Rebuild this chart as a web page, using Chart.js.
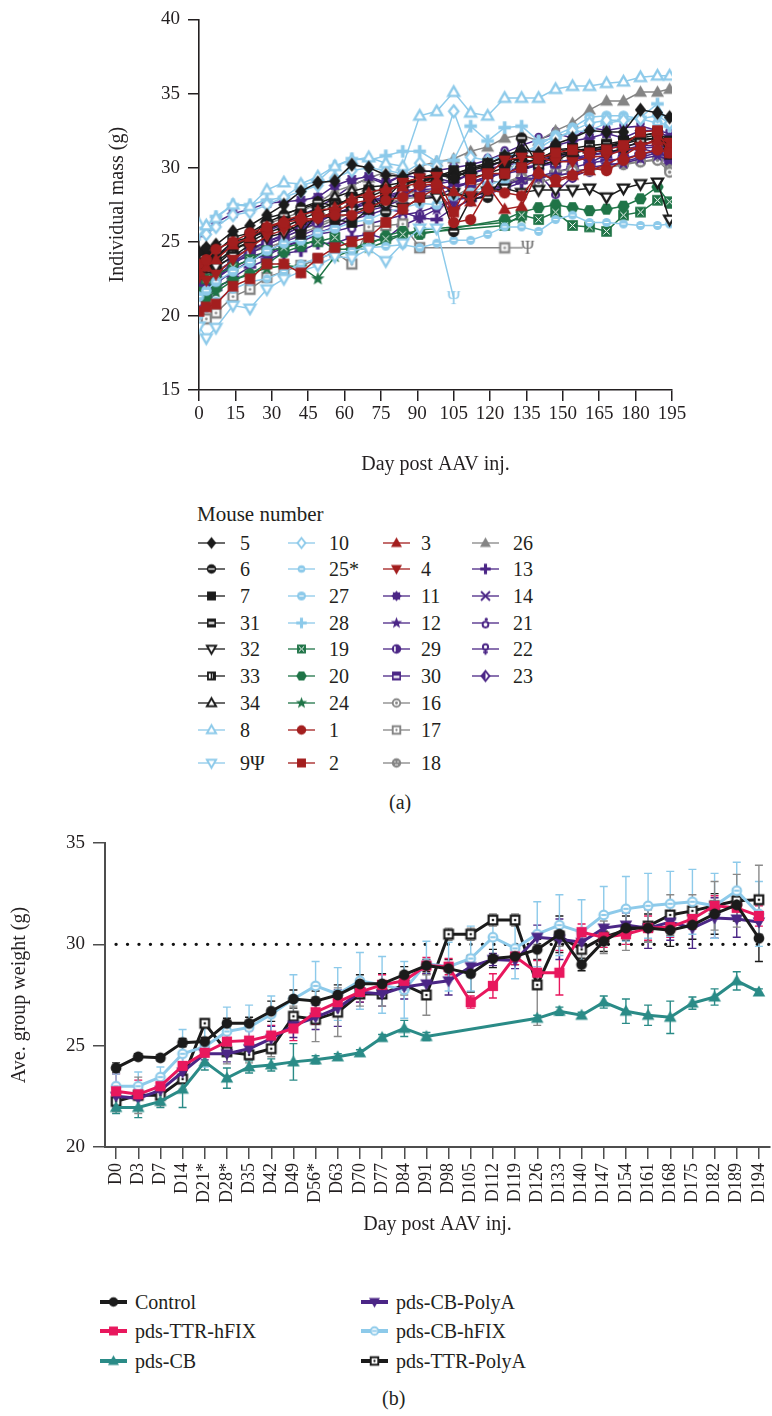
<!DOCTYPE html>
<html>
<head>
<meta charset="utf-8">
<script src="https://cdn.jsdelivr.net/npm/chart.js@4.4.1/dist/chart.umd.min.js"></script>
<style>
  body { margin: 0; background: #fff; width: 772px; height: 1416px; position: relative; overflow: hidden;
         font-family: "Liberation Serif", "Times New Roman", serif; color: #231f20; }
  canvas.chart { position: absolute; left: 0; }
  .txt { position: absolute; font-size: 20px; line-height: 1; transform: translateY(-50%); white-space: nowrap; }
  .ico { position: absolute; }
</style>
</head>
<body>
<canvas id="chartA" class="chart" width="772" height="480" style="top:0"></canvas>
<canvas id="chartB" class="chart" width="800" height="420" style="top:820px"></canvas>
<div class="txt" style="left:197px;top:514px;font-size:21px">Mouse number</div>
<div class="txt" style="left:389px;top:802px">(a)</div>
<div class="txt" style="left:382px;top:1398px">(b)</div>
<div id="legends"></div>
<script>
// ---- panel (a): individual mice, days post injection ----
const days = [0, 3, 7, 14, 21, 28, 35, 42, 49, 56, 63, 70, 77, 84, 91, 98, 105, 112, 119, 126, 133, 140, 147, 154, 161, 168, 175, 182, 189, 194];

const m5  = [24.3, 24.6, 24.8, 25.7, 26.1, 26.8, 27.5, 28.4, 29.0, 29.1, 30.2, 30.0, 29.5, 29.4, 29.8, 29.7, 29.3, 29.9, 30.2, 30.8, 31.2, 31.0, 31.6, 32.0, 32.5, 32.4, 32.4, 33.9, 33.7, 33.4];
const m6  = [24.0, 24.5, 24.3, 25.3, 25.6, 26.3, 26.8, 27.3, 27.7, 27.4, 28.0, 28.4, 27.0, 28.9, 29.2, 29.0, 25.7, 27.9, 28.0, 29.5, 32.0, 30.1, 30.5, 31.0, 31.2, 31.0, 31.3, 31.8, 32.0, 31.0];
const m7  = [23.8, 24.1, 24.0, 25.0, 25.3, 25.9, 26.4, 25.5, 26.9, 26.5, 26.3, 27.2, 27.9, 29.1, 29.0, 29.4, 29.8, 29.3, 29.6, 30.0, 30.8, 30.7, 31.0, 31.3, 31.1, 31.3, 31.8, 32.2, 32.3, 31.6];
const m31 = [23.5, 23.9, 24.0, 24.7, 25.2, 25.8, 26.3, 26.8, 27.2, 27.6, 27.8, 28.5, 28.4, 29.0, 29.3, 29.6, 29.5, 30.0, 30.3, 30.7, 30.9, 30.5, 31.2, 31.3, 31.5, 31.6, 31.8, 32.1, 32.4, 31.8];
const m32 = [23.0, 23.4, 23.3, 24.0, 24.8, 25.3, 25.6, 26.2, 26.6, 27.0, 27.1, 27.3, 27.5, 27.3, 27.9, 28.0, 28.3, 28.0, 28.4, 28.6, 28.3, 28.5, 28.5, 28.5, 28.6, 28.0, 28.6, 28.9, 29.0, 26.5];
const m33 = [23.2, 23.6, 23.6, 24.5, 25.0, 25.6, 26.0, 26.5, 27.0, 27.3, 28.0, 28.0, 28.5, 28.8, 29.2, 29.5, 29.3, 29.8, 30.1, 30.5, 30.6, 30.3, 30.8, 31.0, 31.2, 31.5, 31.7, 32.0, 32.2, 30.9];
const m34 = [22.8, 23.2, 23.4, 24.4, 25.0, 26.6, 26.9, 27.2, 27.6, 28.0, 28.4, 28.7, 28.8, 29.0, 29.1, 29.4, 29.6, 29.9, 30.2, 30.4, 30.3, 30.6, 30.9, 31.1, 31.3, 31.4, 31.6, 31.9, 32.0, 31.5];
const m8  = [26.2, 26.1, 26.6, 27.5, 27.4, 28.5, 29.0, 28.9, 29.4, 30.1, 30.5, 30.7, 30.3, 30.1, 33.5, 33.8, 35.1, 33.7, 33.5, 34.7, 34.7, 34.7, 35.3, 35.5, 35.5, 35.7, 35.8, 36.1, 36.2, 36.2];
const m9  = [19.3, 18.5, 19.2, 20.7, 20.5, 21.8, 22.5, 23.0, 23.4, 24.0, 23.9, 24.5, 23.7, 24.9, 25.9, 25.9, 21.2, null, null, null, null, null, null, null, null, null, null, null, null, null];
const m10 = [25.8, 25.5, 26.0, 26.8, 27.0, 27.5, 28.0, 28.4, 28.8, 29.3, 29.8, 30.0, 29.8, 29.6, 30.3, 30.1, 33.8, 30.7, 30.5, 30.8, 31.0, 31.3, 32.0, 32.5, 33.0, 33.2, 33.2, 33.3, 33.5, 33.0];
const m25 = [20.0, 20.5, 21.0, 21.8, 22.3, 22.5, 23.0, 23.5, 23.9, 24.2, 24.4, 24.6, 24.7, 24.8, 24.6, 24.9, 25.1, 25.1, 25.5, 26.0, 26.0, 25.7, 26.5, 26.8, 26.3, 26.3, 26.2, 26.1, 26.1, 26.2];
const m27 = [21.3, 21.7, 22.3, 23.0, 23.6, 24.4, 24.9, 25.1, 25.6, 25.9, 26.3, 26.5, 27.0, 27.3, 27.6, 27.5, 28.1, 28.3, 28.8, 29.2, 31.0, 31.5, 32.2, 32.7, 33.4, 33.5, 33.5, 33.3, 33.0, 32.9];
const m28 = [25.5, 26.0, 26.7, 27.5, 27.5, 27.8, 28.0, 28.8, 29.1, 30.1, 30.6, 30.5, 30.8, 31.1, 31.1, 30.4, 30.5, 32.8, 31.8, 32.7, 32.8, 31.8, 32.0, 32.4, 32.5, 33.0, 33.2, 33.4, 34.3, 32.8];
const m19 = [23.0, 22.5, 22.8, 23.3, 23.8, 24.4, 24.6, 24.9, 25.0, 25.3, 24.5, 25.0, 25.2, 25.5, 25.6, null, null, null, null, 26.1, 26.8, 26.5, 27.0, 26.1, 26.0, 25.7, 26.8, 27.0, 27.8, 27.7];
const m20 = [21.6, 21.2, 22.0, 22.4, 22.8, 23.5, 24.3, 24.7, 25.2, 24.5, 24.5, 24.8, 25.4, 25.7, 25.5, null, null, null, null, 26.5, 27.0, 27.3, 27.5, 27.3, 27.1, 27.2, 27.4, 27.9, 28.7, 27.6];
const m24 = [21.3, 21.3, 21.6, 22.4, 22.9, 23.2, 23.4, 23.3, 22.5, 24.0, 24.4, 24.6, 25.0, 25.5, 25.8, null, null, null, null, 26.3, 26.6, null, null, null, null, null, null, null, null, null];
const m1  = [23.5, 23.8, 24.5, 25.0, 25.6, 26.0, 26.3, 26.5, 26.6, 26.8, 26.8, 27.3, 27.8, 28.0, 28.8, 28.9, 26.3, 26.5, 28.5, 28.3, 28.1, 29.6, 29.2, 29.5, 30.0, 29.8, 30.5, 30.9, 31.2, 31.0];
const m2  = [20.3, 20.6, 20.8, 22.0, 22.5, 23.5, 23.5, 22.9, 23.9, 24.6, 25.0, 25.3, 26.3, 27.2, 28.0, 28.6, 27.0, 29.2, 29.6, 29.6, 30.0, 30.6, 31.0, 31.2, 31.0, 31.2, 31.5, 32.4, 32.5, 31.0];
const m3  = [23.0, 23.3, 23.8, 24.8, 25.3, 26.0, 26.4, 26.8, 27.1, 27.3, 27.9, 28.3, 28.6, 28.7, 29.0, 29.0, 28.4, 27.7, 28.8, 27.2, 27.4, 29.8, 29.0, 29.5, 29.8, 30.2, 30.8, 31.5, 31.8, 31.5];
const m4  = [22.6, 22.4, 22.8, 23.8, 24.6, 25.4, 25.8, 26.3, 26.6, 27.0, 27.6, 27.8, 28.3, 29.0, 29.3, 29.4, 27.0, 28.1, 29.5, 30.5, 30.7, 30.7, 30.4, 30.4, 30.7, 30.8, 31.2, 31.4, 32.0, 31.7];
const m11 = [25.6, 25.8, 26.3, 26.9, 27.2, 27.6, 27.7, 27.8, 28.0, 28.8, 29.2, 29.4, 29.0, 29.5, 29.3, 29.3, 29.0, 29.6, 30.0, 30.5, 31.0, 31.2, 31.5, 31.8, 32.0, 32.3, 32.0, 32.5, 32.5, 32.0];
const m12 = [22.0, 22.3, 22.5, 23.3, 23.8, 24.1, 24.6, 25.2, 25.6, 26.0, 26.5, 26.8, 27.2, 27.0, 26.6, 27.2, 27.8, 28.0, 28.4, 28.8, 29.2, 29.3, 29.5, 29.6, 30.0, 30.2, 30.3, 30.6, 30.8, 30.5];
const m29 = [22.4, 22.0, 22.5, 23.5, 24.2, 24.8, 25.3, 25.8, 26.3, 26.9, 27.2, 27.6, 28.1, 28.4, 28.6, 28.9, 29.1, 29.6, 29.9, 30.2, 30.3, 30.5, 30.8, 31.0, 31.2, 31.3, 31.5, 31.6, 31.8, 31.9];
const m30 = [22.1, 22.2, 22.6, 23.6, 24.4, 25.0, 25.4, 26.1, 26.5, 26.9, 27.3, 27.8, 28.0, 28.3, 28.5, 28.6, 28.7, 29.0, 29.2, 29.8, 30.0, 30.1, 30.3, 30.6, 30.9, 31.0, 31.2, 31.5, 31.5, 31.3];
const m16 = [22.6, 22.9, 23.3, 24.0, 24.4, 24.8, 25.3, 25.8, 26.2, 26.6, 26.9, 27.2, 27.6, 27.9, 28.0, 28.2, 28.1, 28.4, 28.3, 28.8, 29.3, 29.0, 29.3, 29.8, 29.9, 30.1, 30.3, 30.4, 30.5, 29.7];
const m17 = [19.8, 19.8, 20.2, 21.3, 21.8, 22.6, 23.0, 23.4, 23.8, 24.3, 23.5, 26.0, 26.1, 26.2, 24.6, null, null, null, null, 24.6, null, null, null, null, null, null, null, null, null, null];
const m18 = [22.2, 22.6, 23.1, 23.5, 24.3, 24.6, 25.0, 25.6, 26.0, 26.5, 27.0, 27.4, 27.8, 28.1, 28.5, 28.4, 28.0, 28.7, 29.1, 29.0, 29.4, 29.2, 29.7, 29.9, 29.8, 30.0, 30.2, 30.4, 30.6, 29.9];
const m26 = [22.9, 23.0, 23.6, 24.5, 25.4, 26.2, 26.6, 27.0, 27.6, 28.4, 28.8, 29.3, 29.7, 29.4, 30.1, 30.4, 30.6, 31.1, 31.4, 32.0, 32.2, 31.8, 32.5, 33.0, 33.9, 34.5, 34.5, 35.1, 35.1, 35.3];
const m13 = [21.6, 21.3, 21.8, 22.6, 23.3, 23.8, 24.2, 24.4, 24.9, 24.9, 25.3, 25.5, 25.2, 26.1, 26.6, 26.5, 27.3, 27.8, 28.2, 28.6, 29.0, 29.4, 29.7, 30.0, 30.3, 30.5, 30.6, 30.9, 31.1, 30.5];
const m14 = [22.7, 22.5, 23.0, 23.7, 24.0, 24.3, 25.0, 25.4, 25.9, 26.2, 26.8, 27.1, 27.4, 27.9, 28.3, 28.5, 28.8, 29.0, 29.4, 29.7, 30.0, 30.2, 30.4, 30.5, 30.8, 31.0, 31.1, 31.3, 31.4, 31.2];
const m21 = [21.0, 21.5, 22.2, 23.0, 23.7, 24.2, 24.7, 25.0, 25.5, 25.7, 26.0, 26.2, 26.5, 26.8, 27.0, 27.4, 27.8, 28.1, 28.5, 28.9, 29.3, 29.6, 28.3, 29.4, 29.8, 30.1, 30.4, 30.7, 31.0, 30.8];
const m22 = [23.2, 23.5, 24.0, 24.8, 25.3, 25.7, 26.2, 26.8, 27.3, 28.0, 28.8, 29.3, 28.9, 29.5, 29.7, 29.8, 30.0, 30.2, 30.5, 31.0, 31.5, 31.9, 32.3, 32.0, 32.7, 32.5, 32.7, 32.8, 32.5, 32.3];
const m23 = [22.5, 22.8, 23.3, 24.0, 24.5, 25.0, 25.5, 26.0, 26.4, 26.9, 27.3, 27.6, 27.9, 28.2, 28.0, 28.1, 28.6, 29.0, 29.4, 29.6, 29.8, 30.2, 30.7, 31.0, 30.3, 30.9, 31.2, 31.3, 31.0, 30.3];

// ---- panel (b): group means and error bars ----
const dayLabels = ['D0', 'D3', 'D7', 'D14', 'D21*', 'D28*', 'D35', 'D42', 'D49', 'D56*', 'D63', 'D70', 'D77', 'D84', 'D91',
  'D98', 'D105', 'D112', 'D119', 'D126', 'D133', 'D140', 'D147', 'D154', 'D161', 'D168', 'D175', 'D182', 'D189', 'D194'];

const control   = [23.9, 24.45, 24.4, 25.15, 25.2, 26.1, 26.1, 26.7, 27.3, 27.2, 27.5, 28.05, 28.05, 28.5, 28.95, 28.8, 28.55, 29.3, 29.4, 29.75, 30.5, 29.0, 30.15, 30.8, 30.8, 30.7, 30.95, 31.5, 31.95, 30.3];
const ttrHfix   = [22.75, 22.6, 23.0, 24.0, 24.65, 25.2, 25.25, 25.5, 25.85, 26.65, 27.15, 27.65, 28.0, 28.2, 28.95, 28.9, 27.15, 27.95, 29.4, 28.6, 28.6, 30.6, 30.35, 30.5, 30.8, 30.85, 31.25, 31.9, 31.8, 31.4];
const cbOnly    = [21.95, 21.95, 22.25, 22.85, 24.2, 23.4, 23.95, 24.05, 24.2, 24.3, 24.45, 24.65, 25.4, 25.85, 25.45, null, null, null, null, 26.35, 26.7, 26.5, 27.15, 26.7, 26.5, 26.4, 27.1, 27.4, 28.2, 27.65];
const cbPolyA   = [22.5, 22.4, 22.8, 23.7, 24.6, 24.6, 24.85, 25.35, 26.0, 26.4, 26.85, 27.65, 27.55, 27.9, 28.05, 28.2, 28.9, 29.25, 29.2, 30.35, 30.25, 30.1, 30.8, 30.95, 30.8, 31.1, 30.8, 31.3, 31.25, 31.1];
const cbHfix    = [23.0, 23.0, 23.45, 24.6, 24.95, 25.7, 25.9, 26.55, 27.3, 27.95, 27.55, 28.2, 28.0, 27.75, 29.05, 28.9, 29.3, 30.35, 29.8, 30.5, 30.95, 30.6, 31.45, 31.75, 31.9, 32.0, 32.1, 31.9, 32.65, 31.5];
const ttrPolyA  = [22.25, 22.55, 22.55, 23.35, 26.1, 24.7, 24.55, 24.85, 26.45, 26.3, 26.65, 27.55, 27.55, 28.0, 27.5, 30.5, 30.5, 31.2, 31.2, 28.0, 30.4, 29.75, 30.35, 30.7, 30.9, 31.45, 31.65, 31.9, 32.15, 32.2];

const controlErr  = [0.25, 0.15, 0.15, 0.2, 0.2, 0.25, 0.3, 0.5, 0.45, 0.5, 0.5, 0.45, 0.5, 0.4, 0.3, 0.45, 0.9, 0.45, 0.4, 0.5, 0.9, 0.3, 0.5, 0.6, 0.7, 0.8, 0.7, 1.0, 0.8, 1.15];
const ttrHfixErr  = [0.85, 0.7, 0.5, 0.6, 0.5, 0.5, 0.5, 0.5, 0.6, 0.6, 0.5, 0.5, 0.5, 0.4, 0.4, 0.4, 0.3, 0.6, 0.4, 0.6, 1.1, 0.4, 0.5, 0.5, 0.6, 0.5, 0.5, 0.5, 0.5, 0.5];
const cbOnlyErr   = [0.3, 0.5, 0.3, 0.9, 0.4, 0.5, 0.3, 0.3, 0.9, 0.2, 0.15, 0.15, 0.15, 0.4, 0.2, null, null, null, null, 0.15, 0.2, 0.15, 0.3, 0.6, 0.5, 0.8, 0.3, 0.4, 0.45, 0.15];
const cbPolyAErr  = [0.5, 0.5, 0.4, 0.4, 0.3, 0.4, 0.5, 0.6, 0.6, 0.6, 0.9, 0.5, 0.6, 0.6, 0.5, 0.7, 0.5, 0.3, 0.4, 0.6, 1.0, 0.4, 0.7, 0.6, 1.0, 0.9, 1.0, 1.0, 0.9, 0.9];
const cbHfixErr   = [0.6, 0.7, 0.5, 1.2, 1.0, 1.2, 1.1, 0.9, 1.2, 1.2, 1.3, 1.4, 1.4, 1.4, 1.1, 1.2, 1.6, 0.9, 1.5, 1.6, 1.5, 1.6, 1.4, 1.6, 1.6, 1.6, 1.6, 1.6, 1.4, 1.6];
const ttrPolyAErr = [0.5, 0.9, 0.5, 0.5, 0.2, 0.6, 0.4, 0.4, 0.5, 1.1, 1.2, 0.6, 0.6, 0.5, 1.0, 0.3, 0.3, 0.3, 0.3, 2.0, 0.5, 0.4, 0.8, 1.0, 0.8, 1.0, 0.8, 1.2, 1.3, 1.7];

const refLevel = 30;

// ---- styling ----
const INK = '#231f20';
const BLK = '#1b1b1b', LBL = '#8dcaea', GRN = '#1f7447', RED = '#a31e1e', PUR = '#4b2686', GRY = '#858585';
const PINK = '#e8175d', TEAL = '#2a8b87';

Chart.defaults.font.family = '"Liberation Serif", "Times New Roman", serif';
Chart.defaults.color = INK;

function marker(kind, color, s) {
  const W = Math.ceil(s + 6);
  const c = document.createElement('canvas');
  c.width = W; c.height = W;
  const g = c.getContext('2d');
  const x = W / 2, y = W / 2, r = s / 2;
  g.fillStyle = color; g.strokeStyle = color; g.lineWidth = Math.max(1.7, s / 5.5);
  const path = pts => { g.beginPath(); pts.forEach(([a, b], i) => i ? g.lineTo(x + a * r, y + b * r) : g.moveTo(x + a * r, y + b * r)); g.closePath(); };
  const circle = (rr, dx = 0, dy = 0) => { g.beginPath(); g.arc(x + dx * r, y + dy * r, rr * r, 0, Math.PI * 2); };
  const hole = (a, b, w, h) => { g.fillStyle = '#fff'; g.fillRect(x + a * r, y + b * r, w * r, h * r); g.fillStyle = color; };
  const open = () => { g.fillStyle = '#fff'; g.fill(); g.fillStyle = color; g.stroke(); };
  const seg = (a, b, c2, d) => { g.beginPath(); g.moveTo(x + a * r, y + b * r); g.lineTo(x + c2 * r, y + d * r); g.stroke(); };
  const ring = (n, ro, ri, rot) => { const p = []; for (let k = 0; k < n * 2; k++) { const t = rot + k * Math.PI / n; const q = k % 2 ? ri : ro; p.push([q * Math.cos(t), q * Math.sin(t)]); } return p; };
  const TRI = [[0, -1.1], [1.05, 0.75], [-1.05, 0.75]];
  const TRID = [[0, 1.1], [1.05, -0.75], [-1.05, -0.75]];
  const DIA = [[0, -1.15], [0.9, 0], [0, 1.15], [-0.9, 0]];
  const SQ = [[-0.85, -0.85], [0.85, -0.85], [0.85, 0.85], [-0.85, 0.85]];
  const SQS = [[-0.72, -0.72], [0.72, -0.72], [0.72, 0.72], [-0.72, 0.72]];
  switch (kind) {
    case 'circle': circle(0.9); g.fill(); break;
    case 'circleBand': circle(0.9); g.fill(); hole(-0.6, -0.12, 1.2, 0.24); break;
    case 'circleDash': circle(0.85); g.fill(); hole(-0.42, -0.1, 0.84, 0.2); break;
    case 'circleVbar': circle(0.9); g.fill(); hole(-0.45, -0.5, 0.3, 1.0); break;
    case 'circleRing': circle(0.72); open(); circle(0.28); g.fill(); break;
    case 'circleFace': circle(0.9); g.fill(); hole(-0.4, -0.35, 0.22, 0.22); hole(0.18, -0.35, 0.22, 0.22); hole(-0.3, 0.25, 0.6, 0.16); break;
    case 'circleOpenDash': circle(0.72); open(); seg(-0.45, 0, 0.45, 0); break;
    case 'burst': path(ring(8, 1.0, 0.72, 0)); g.fill(); break;
    case 'square': path(SQ); g.fill(); break;
    case 'squareBand': path(SQ); g.fill(); hole(-0.55, -0.2, 1.1, 0.4); break;
    case 'squareVbar': path(SQ); g.fill(); hole(-0.5, -0.45, 0.35, 0.9); hole(0.1, -0.45, 0.12, 0.9); break;
    case 'squareLow': path(SQ); g.fill(); hole(-0.55, -0.05, 1.1, 0.45); break;
    case 'squareX': path(SQ); g.fill(); g.strokeStyle = '#fff'; g.lineWidth = 1; seg(-0.5, -0.5, 0.5, 0.5); seg(-0.5, 0.5, 0.5, -0.5); break;
    case 'squareDot': path(SQS); open(); circle(0.22); g.fill(); break;
    case 'tri': path(TRI); g.fill(); break;
    case 'triOpen': path([[0, -0.9], [0.88, 0.62], [-0.88, 0.62]]); open(); break;
    case 'triDown': path(TRID); g.fill(); break;
    case 'triDownOpen': path([[0, 0.9], [0.88, -0.62], [-0.88, -0.62]]); open(); break;
    case 'diamond': path(DIA); g.fill(); break;
    case 'diamondOpen': path([[0, -0.95], [0.75, 0], [0, 0.95], [-0.75, 0]]); open(); break;
    case 'diamondHalf': path([[0, -0.95], [0.75, 0], [0, 0.95], [-0.75, 0]]); open(); path([[0, -0.95], [0, 0.95], [-0.75, 0]]); g.fill(); break;
    case 'hexagon': path(ring(3, 1.0, 1.0, 0)); g.fill(); break;
    case 'star': path(ring(5, 1.15, 0.48, -Math.PI / 2)); g.fill(); break;
    case 'plus': g.lineWidth = s / 3.4; seg(-1, 0, 1, 0); seg(0, -1, 0, 1); break;
    case 'cross': g.lineWidth = s / 5.5; seg(-0.85, -0.85, 0.85, 0.85); seg(-0.85, 0.85, 0.85, -0.85); break;
    case 'male': circle(0.55, 0, 0.3); open(); circle(0.32, 0.15, -0.7); g.fill(); break;
    case 'female': circle(0.5, 0, -0.4); open(); seg(0, 0.1, 0, 1.1); seg(-0.45, 0.6, 0.45, 0.6); break;
  }
  return c;
}

// psi symbol marking the last weighing of a mouse
function psiMark(color, withSquare) {
  const c = document.createElement('canvas');
  c.width = withSquare ? 66 : 22; c.height = 24;
  const g = c.getContext('2d');
  const cx = c.width / 2;
  g.fillStyle = color; g.strokeStyle = color;
  g.font = '18px "Liberation Serif", serif'; g.textAlign = 'center'; g.textBaseline = 'middle';
  if (withSquare) {
    g.lineWidth = 1.4; g.beginPath(); g.moveTo(cx, 12); g.lineTo(cx + 18, 12); g.stroke();
    const sq = marker('squareDot', GRY, 12.5);
    g.drawImage(sq, cx - sq.width / 2, 12 - sq.height / 2);
    g.fillStyle = '#6d6d6d'; g.fillText('Ψ', cx + 23, 13);
  } else {
    g.fillText('Ψ', cx, 13);
  }
  return c;
}

const mice = [
  { label: '5', data: m5, color: BLK, kind: 'diamond' },
  { label: '6', data: m6, color: BLK, kind: 'circleBand' },
  { label: '7', data: m7, color: BLK, kind: 'square' },
  { label: '31', data: m31, color: BLK, kind: 'squareBand' },
  { label: '32', data: m32, color: BLK, kind: 'triDownOpen' },
  { label: '33', data: m33, color: BLK, kind: 'squareVbar' },
  { label: '34', data: m34, color: BLK, kind: 'triOpen' },
  { label: '8', data: m8, color: LBL, kind: 'triOpen' },
  { label: '9Ψ', data: m9, color: LBL, kind: 'triDownOpen', psi: 'plain' },
  { label: '10', data: m10, color: LBL, kind: 'diamondOpen' },
  { label: '25*', data: m25, color: LBL, kind: 'circleDash', small: true },
  { label: '27', data: m27, color: LBL, kind: 'circleDash' },
  { label: '28', data: m28, color: LBL, kind: 'plus' },
  { label: '19', data: m19, color: GRN, kind: 'squareX' },
  { label: '20', data: m20, color: GRN, kind: 'hexagon' },
  { label: '24', data: m24, color: GRN, kind: 'star' },
  { label: '1', data: m1, color: RED, kind: 'circle' },
  { label: '2', data: m2, color: RED, kind: 'square' },
  { label: '3', data: m3, color: RED, kind: 'tri' },
  { label: '4', data: m4, color: RED, kind: 'triDown' },
  { label: '11', data: m11, color: PUR, kind: 'burst' },
  { label: '12', data: m12, color: PUR, kind: 'star' },
  { label: '29', data: m29, color: PUR, kind: 'circleVbar' },
  { label: '30', data: m30, color: PUR, kind: 'squareLow' },
  { label: '16', data: m16, color: GRY, kind: 'circleRing' },
  { label: '17', data: m17, color: GRY, kind: 'squareDot', psi: 'square' },
  { label: '18', data: m18, color: GRY, kind: 'circleFace' },
  { label: '26', data: m26, color: GRY, kind: 'tri' },
  { label: '13', data: m13, color: PUR, kind: 'plus' },
  { label: '14', data: m14, color: PUR, kind: 'cross' },
  { label: '21', data: m21, color: PUR, kind: 'male' },
  { label: '22', data: m22, color: PUR, kind: 'female' },
  { label: '23', data: m23, color: PUR, kind: 'diamondHalf' }
];

const groups = [
  { label: 'Control', data: control, err: controlErr, color: BLK, errColor: BLK, kind: 'circle' },
  { label: 'pds-TTR-hFIX', data: ttrHfix, err: ttrHfixErr, color: PINK, errColor: PINK, kind: 'square' },
  { label: 'pds-CB', data: cbOnly, err: cbOnlyErr, color: TEAL, errColor: TEAL, kind: 'tri' },
  { label: 'pds-CB-PolyA', data: cbPolyA, err: cbPolyAErr, color: PUR, errColor: PUR, kind: 'triDown' },
  { label: 'pds-CB-hFIX', data: cbHfix, err: cbHfixErr, color: LBL, errColor: LBL, kind: 'circleOpenDash' },
  { label: 'pds-TTR-PolyA', data: ttrPolyA, err: ttrPolyAErr, color: BLK, errColor: '#8a8a8a', kind: 'squareDot' }
];

// ---- plugins ----
const errorBars = {
  id: 'errorBars',
  beforeDatasetsDraw(chart) {
    const { ctx, scales: { x, y } } = chart;
    ctx.save();
    ctx.lineWidth = 1.4;
    chart.data.datasets.forEach(ds => {
      ctx.strokeStyle = ds.errColor;
      ds.errors.forEach((e, i) => {
        const v = ds.data[i];
        if (v == null || e == null) return;
        const px = x.getPixelForValue(i);
        const top = y.getPixelForValue(v + e), bot = y.getPixelForValue(v - e);
        ctx.beginPath();
        ctx.moveTo(px, top); ctx.lineTo(px, bot);
        ctx.moveTo(px - 4, top); ctx.lineTo(px + 4, top);
        ctx.moveTo(px - 4, bot); ctx.lineTo(px + 4, bot);
        ctx.stroke();
      });
    });
    ctx.restore();
  }
};

const refLine = {
  id: 'refLine',
  beforeDatasetsDraw(chart) {
    const { ctx, chartArea: a, scales: { x, y } } = chart;
    const py = y.getPixelForValue(refLevel);
    ctx.save();
    ctx.strokeStyle = '#111'; ctx.lineWidth = 3.4; ctx.lineCap = 'round';
    ctx.setLineDash([0, 11.45]);
    ctx.beginPath(); ctx.moveTo(x.getPixelForValue(0), py); ctx.lineTo(a.right, py); ctx.stroke();
    ctx.restore();
  }
};

// ---- chart (a) ----
const chartA = new Chart(document.getElementById('chartA'), {
  type: 'line',
  data: {
    datasets: mice.map(m => {
      const pts = [];
      m.data.forEach((v, i) => { if (v != null) pts.push({ x: days[i], y: v }); });
      const mk = marker(m.kind, m.color, m.small ? 10.5 : 12.5);
      const special = m.psi ? psiMark(m.color, m.psi === 'square') : null;
      return {
        label: m.label,
        data: pts,
        borderColor: m.color,
        borderWidth: 1.5,
        pointStyle: ctx => (special && ctx.dataIndex === pts.length - 1) ? special : mk,
        pointRadius: 6,
        tension: 0,
        order: m.color === RED ? -1 : 0
      };
    })
  },
  options: {
    responsive: false, devicePixelRatio: 1, animation: false,
    layout: { padding: { top: 15, right: 100, left: 0, bottom: 0 } },
    plugins: { legend: { display: false }, tooltip: { enabled: false } },
    scales: {
      x: {
        type: 'linear', min: 0, max: 195,
        ticks: { stepSize: 15, font: { size: 19 }, padding: 2, maxRotation: 0, color: INK },
        grid: { drawOnChartArea: false, tickLength: 11, color: INK, lineWidth: 1.5 },
        border: { color: INK, width: 1.6 },
        title: { display: true, text: 'Day post AAV inj.', font: { size: 20 }, padding: { top: 0, bottom: 3 }, color: INK },
        afterFit: s => { s.height = 90; }
      },
      y: {
        min: 15, max: 40,
        ticks: { stepSize: 5, font: { size: 19 }, padding: 8, color: INK },
        grid: { drawOnChartArea: false, tickLength: 11, color: INK, lineWidth: 1.5 },
        border: { color: INK, width: 1.6 },
        title: { display: true, text: 'Individual mass (g)', font: { size: 20 }, padding: { top: 106, bottom: 0 }, color: INK },
        afterFit: s => { s.width = 199; }
      }
    }
  }
});

// ---- chart (b) ----
const chartB = new Chart(document.getElementById('chartB'), {
  type: 'line',
  data: {
    labels: dayLabels,
    datasets: groups.map(gr => ({
      label: gr.label,
      data: gr.data,
      errors: gr.err,
      errColor: gr.errColor,
      borderColor: gr.color,
      borderWidth: 3,
      pointStyle: marker(gr.kind, gr.color, 12),
      pointRadius: 6,
      spanGaps: true,
      tension: 0
    }))
  },
  options: {
    responsive: false, devicePixelRatio: 1, animation: false,
    layout: { padding: { top: 23, right: 30, left: 0, bottom: 0 } },
    plugins: { legend: { display: false }, tooltip: { enabled: false } },
    scales: {
      x: {
        type: 'category', offset: true,
        ticks: { minRotation: 90, maxRotation: 90, autoSkip: false, font: { size: 18 }, padding: 4, color: INK },
        grid: { drawOnChartArea: false, tickLength: 12, color: '#4d4d4d', lineWidth: 1.5, offset: false },
        border: { color: '#4d4d4d', width: 2 },
        title: { display: true, text: 'Day post AAV inj.', font: { size: 20 }, padding: { top: 0, bottom: 3 }, color: INK },
        afterFit: s => { s.height = 93; }
      },
      y: {
        min: 20, max: 35,
        ticks: { stepSize: 5, font: { size: 19 }, padding: 8, color: INK },
        grid: { drawOnChartArea: false, tickLength: 12, color: '#4d4d4d', lineWidth: 1.5 },
        border: { color: '#4d4d4d', width: 2 },
        title: { display: true, text: 'Ave. group weight (g)', font: { size: 20 }, padding: { top: 8, bottom: 0 }, color: INK },
        afterFit: s => { s.width = 105; }
      }
    }
  },
  plugins: [refLine, errorBars]
});

// ---- HTML legends ----
const host = document.getElementById('legends');
function addIcon(left, cy, color, kind, size, lw, w) {
  const c = document.createElement('canvas');
  c.width = w; c.height = 20; c.className = 'ico';
  c.style.left = left + 'px'; c.style.top = (cy - 10) + 'px';
  const g = c.getContext('2d');
  g.strokeStyle = color; g.lineWidth = lw;
  g.beginPath(); g.moveTo(0, 10); g.lineTo(w, 10); g.stroke();
  const mk = marker(kind, color, size);
  g.drawImage(mk, w / 2 - mk.width / 2, 10 - mk.height / 2);
  host.appendChild(c);
}
function addText(left, cy, text) {
  const d = document.createElement('div');
  d.className = 'txt'; d.textContent = text;
  d.style.left = left + 'px'; d.style.top = cy + 'px';
  host.appendChild(d);
}

const rowsA = [543, 569, 596, 623, 649, 676, 703, 730, 763];
const iconColsA = [198, 288, 383, 472];
const textColsA = [240, 329, 421, 513];
mice.forEach((m, i) => {
  const col = Math.floor(i / 9), row = i % 9;
  addIcon(iconColsA[col], rowsA[row], m.color, m.kind, m.small ? 9 : 10.5, 1.3, 27);
  addText(textColsA[col], rowsA[row], m.label);
});

const rowsB = [1302, 1331, 1361];
groups.forEach((gr, i) => {
  const col = Math.floor(i / 3), row = i % 3;
  addIcon(col ? 361 : 100, rowsB[row], gr.color, gr.kind, 10.5, 4, 27);
  addText(col ? 396 : 135, rowsB[row], gr.label);
});
</script>
</body>
</html>
